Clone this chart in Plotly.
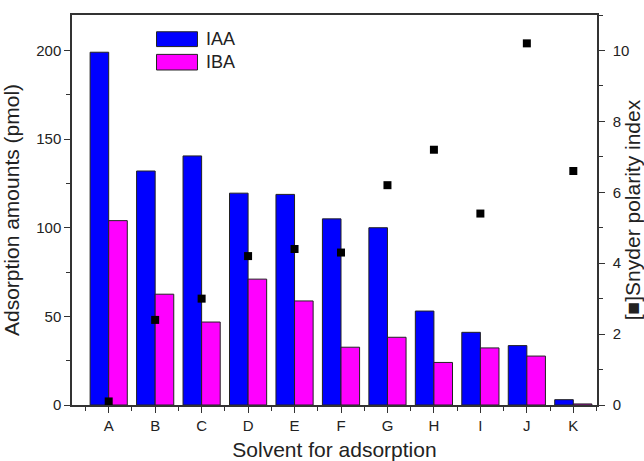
import plotly.graph_objects as go

categories = ["A", "B", "C", "D", "E", "F", "G", "H", "I", "J", "K"]
iaa = [199, 132, 140.5, 119.5, 118.8, 105, 100, 53, 41, 33.5, 3]
iba = [104, 62.5, 46.8, 71, 58.7, 32.6, 38.2, 24, 32.2, 27.6, 0.6]
snyder = [0.1, 2.4, 3.0, 4.2, 4.4, 4.3, 6.2, 7.2, 5.4, 10.2, 6.6]

xpos = list(range(len(categories)))
font_family = "Liberation Sans, Arial, sans-serif"
axis_color = "#333333"

fig = go.Figure()
fig.add_trace(go.Bar(
    x=xpos, y=iaa, name="IAA", width=0.4, offset=-0.4,
    marker=dict(color="#0000FF", line=dict(color="#222222", width=1)),
    showlegend=False,
))
fig.add_trace(go.Bar(
    x=xpos, y=iba, name="IBA", width=0.4, offset=0,
    marker=dict(color="#FF00FF", line=dict(color="#222222", width=1)),
    showlegend=False,
))
fig.add_trace(go.Scatter(
    x=xpos, y=snyder, yaxis="y2", mode="markers", name="Snyder",
    marker=dict(symbol="square", size=8, color="black"),
    showlegend=False,
))

fig.update_layout(
    width=644, height=461,
    margin=dict(l=72, r=47, t=15, b=56, autoexpand=False),
    plot_bgcolor="white", paper_bgcolor="white",
    barmode="overlay",
    font=dict(family=font_family, size=15, color="#222222"),
    xaxis=dict(
        range=[-0.79, 10.51], automargin=False,
        tickmode="array", tickvals=xpos, ticktext=categories,
        ticks="outside", ticklen=6, tickwidth=1.2, tickcolor=axis_color,
        ticklabelstandoff=0,
        minor=dict(tickmode="linear", tick0=-0.5, dtick=1, ticks="outside",
                   ticklen=4, tickwidth=1.2, tickcolor=axis_color),
        showline=True, linecolor=axis_color, linewidth=1.5, mirror=True,
        showgrid=False, zeroline=False,
        title=dict(text="Solvent for adsorption", font=dict(size=21)),
        tickfont=dict(size=15),
    ),
    yaxis=dict(
        range=[0, 220], automargin=False,
        tickmode="linear", tick0=0, dtick=50,
        ticks="outside", ticklen=6, tickwidth=1.2, tickcolor=axis_color,
        ticklabelstandoff=0,
        minor=dict(tickmode="linear", tick0=25, dtick=50, ticks="outside",
                   ticklen=4, tickwidth=1.2, tickcolor=axis_color),
        showline=True, linecolor=axis_color, linewidth=1.5,
        showgrid=False, zeroline=False,
        title=dict(text="Adsorption amounts (pmol)", font=dict(size=21)),
        tickfont=dict(size=15),
    ),
    yaxis2=dict(
        overlaying="y", side="right", automargin=False,
        range=[0, 11],
        tickmode="linear", tick0=0, dtick=2,
        ticks="outside", ticklen=6, tickwidth=1.2, tickcolor=axis_color,
        ticklabelstandoff=5,
        minor=dict(tickmode="linear", tick0=1, dtick=2, ticks="outside",
                   ticklen=4, tickwidth=1.2, tickcolor=axis_color),
        showline=True, linecolor=axis_color, linewidth=1.5,
        showgrid=False, zeroline=False,
        title=dict(text="[■]Snyder polarity index", font=dict(size=21)),
        tickfont=dict(size=15),
    ),
)

# Custom legend (wide swatches as in the reference)
legend_items = [("IAA", "#0000FF", 0.957, 0.919), ("IBA", "#FF00FF", 0.899, 0.859)]
for name, color, ytop, ybot in legend_items:
    fig.add_shape(type="rect", xref="paper", yref="paper",
                  x0=0.161, x1=0.239, y0=ybot, y1=ytop,
                  fillcolor=color, line=dict(color="#222222", width=1))
    fig.add_annotation(xref="paper", yref="paper", x=0.251, y=(ytop + ybot) / 2,
                       text=name, showarrow=False, xanchor="left", yanchor="middle",
                       font=dict(size=18, color="#222222"))

fig.write_html("out.html")
